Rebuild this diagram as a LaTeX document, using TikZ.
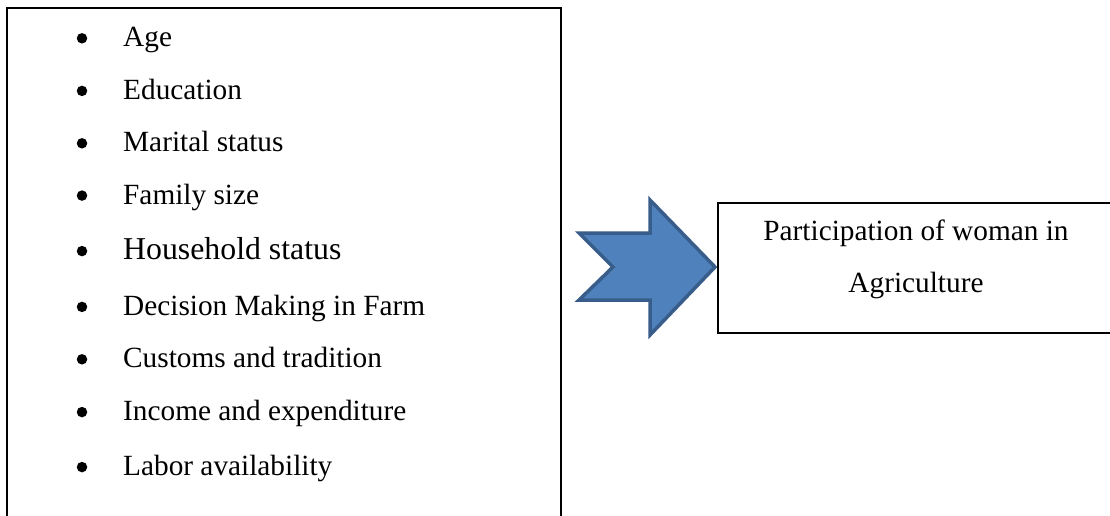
\documentclass[tikz,border=0pt]{standalone}
\usepackage{fontspec}
\setmainfont{Liberation Serif}
\definecolor{arrowfill}{HTML}{4F81BD}
\definecolor{arrowline}{HTML}{385D8A}
\begin{document}
\begin{tikzpicture}[x=1pt,y=-1pt,
  box/.style={draw=black,line width=2pt},
  item/.style={anchor=base west,inner sep=0pt,font=\fontsize{29.3}{35}\selectfont},
  bigitem/.style={anchor=base west,inner sep=0pt,font=\fontsize{31.8}{38}\selectfont},
  dot/.style={circle,fill=black,inner sep=0pt,minimum size=10.5pt},
  label/.style={anchor=base,inner sep=0pt,font=\fontsize{29.3}{35}\selectfont}]
\useasboundingbox (0,0) rectangle (1110,516);
\clip (0,0) rectangle (1110,516);
\fill[white] (0,0) rectangle (1110,516);
% left box
\draw[box] (7,8) rectangle (561,540);
% items
\foreach \n/\t/\b/\s in {a/Age/46.7/item, b/Education/99.3/item, c/Marital status/151.7/item,
  d/Family size/204/item, e/Household status/259.5/bigitem, f/Decision Making in Farm/315.3/item,
  g/Customs and tradition/367.7/item, h/Income and expenditure/420.5/item, i/Labor availability/475.5/item}{
  \node[\s] (t\n) at (123,\b) {\t};
  \node[dot] (d\n) at (82,\b-8.4) {};
}
% arrow
\draw[line width=3.5pt,draw=arrowline,fill=arrowfill,line join=miter]
  (579,233) -- (650,233) -- (650,200) -- (715,267) -- (650,335) -- (650,300) -- (579,300) -- (613,267) -- cycle;
% right box
\draw[box] (718,203) rectangle (1125,333);
\node[label] (l1) at (916,240) {Participation of woman in};
\node[label] (l2) at (916,292) {Agriculture};
\end{tikzpicture}
\end{document}
